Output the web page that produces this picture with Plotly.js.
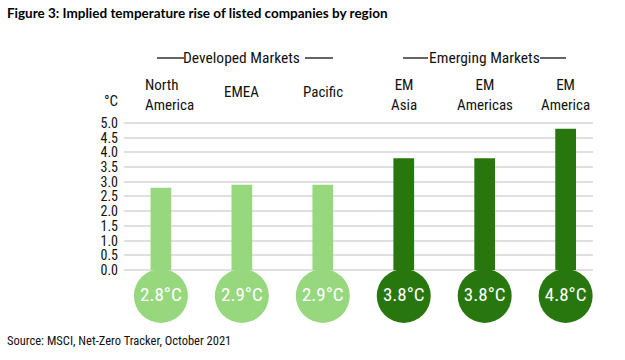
<!DOCTYPE html>
<html>
<head>
<meta charset="utf-8">
<script src="https://cdn.plot.ly/plotly-3.0.1.min.js"></script>
<style>html,body{margin:0;padding:0;background:#fff;}#chart{width:625px;height:360px;}</style>
</head>
<body>
<div id="chart"></div>
<script>
// ---- data ----
const categories = ["North America", "EMEA", "Pacific", "EM Asia", "EM Americas", "EM America"];
const headerLabels = ["North<br>America", "EMEA", "Pacific", "EM<br>Asia", "EM<br>Americas", "EM<br>America"];
const temperatures = [2.8, 2.9, 2.9, 3.8, 3.8, 4.8];
const groups = ["Developed", "Developed", "Developed", "Emerging", "Emerging", "Emerging"];
const yTickVals = [0, 0.5, 1, 1.5, 2, 2.5, 3, 3.5, 4, 4.5, 5];
const yTickText = ["0.0", "0.5", "1.0", "1.5", "2.0", "2.5", "3.0", "3.5", "4.0", "4.5", "5.0"];
const groupTitles = ["Developed Markets", "Emerging Markets"];

// ---- style ----
const NARROW = "Roboto Condensed, DejaVu Sans Condensed, sans-serif";
const nf = (size, color) => ({family: NARROW, size: size, color: color || "#111", stretch: "condensed"});
const groupColor = {Developed: "#97d87f", Emerging: "#28770e"};
const colors = groups.map(g => groupColor[g]);
const bulbY = -0.88;

const plotLeft = 124, plotW = 469, plotTop = 117, plotH = 206;
const pxToPaperX = px => (px - plotLeft) / plotW;
const pxToPaperY = py => (plotTop + plotH - py) / plotH;

const bars = {
  type: "bar",
  x: categories,
  y: temperatures,
  width: 0.256,
  marker: {color: colors, line: {width: 0}},
  hoverinfo: "skip"
};

const bulbs = {
  type: "scatter",
  mode: "markers+text",
  x: categories,
  y: categories.map(() => bulbY),
  text: temperatures.map(v => v.toFixed(1) + "°C"),
  textposition: "middle center",
  textfont: nf(19, "#ffffff"),
  marker: {size: 54, color: colors, line: {width: 0}},
  cliponaxis: false,
  hoverinfo: "skip"
};

const annotations = [];
headerLabels.forEach((t, i) => {
  const twoLine = t.includes("<br>");
  annotations.push({
    x: categories[i], xref: "x", y: pxToPaperY(twoLine ? 95 : 92), yref: "paper",
    text: t, showarrow: false, xanchor: "center", yanchor: "middle",
    align: i === 0 ? "left" : "center",
    xshift: i === 0 ? 9 : 0,
    font: nf(15)
  });
});
groupTitles.forEach((t, i) => {
  annotations.push({
    x: categories[i * 3 + 1], xref: "x", y: pxToPaperY(58), yref: "paper",
    text: t, showarrow: false, xanchor: "center", yanchor: "middle",
    font: nf(15.5)
  });
});
annotations.push({
  x: pxToPaperX(111), xref: "paper", y: pxToPaperY(101), yref: "paper",
  text: "°C", showarrow: false, xanchor: "center", yanchor: "middle",
  font: nf(15)
});
annotations.push({
  x: pxToPaperX(5), xref: "paper", y: pxToPaperY(340), yref: "paper",
  text: "Source: MSCI, Net-Zero Tracker, October 2021", showarrow: false, xanchor: "left", yanchor: "middle",
  font: nf(12.5)
});

const lineStyle = {color: "#111", width: 1.3};
const seg = (x0, x1) => ({type: "line", xref: "paper", yref: "paper",
  x0: pxToPaperX(x0), x1: pxToPaperX(x1), y0: pxToPaperY(58), y1: pxToPaperY(58), line: lineStyle});
const shapes = [seg(157, 184), seg(305, 333), seg(403, 428), seg(540, 566)];

const layout = {
  width: 625, height: 360,
  margin: {l: plotLeft, r: 625 - plotLeft - plotW, t: plotTop, b: 360 - plotTop - plotH, pad: 0},
  paper_bgcolor: "#ffffff", plot_bgcolor: "#ffffff",
  showlegend: false,
  title: {
    text: "<b>Figure 3: Implied temperature rise of listed companies by region</b>",
    x: 0.011, xanchor: "left", y: 0.962, yanchor: "middle",
    font: {family: "Lato, sans-serif", size: 13.5, color: "#000"}
  },
  xaxis: {
    type: "category", range: [-0.456, 5.338],
    showticklabels: false, showgrid: false, zeroline: false, showline: false, ticks: "",
    fixedrange: true
  },
  yaxis: {
    range: [-1.8, 5.2],
    tickmode: "array", tickvals: yTickVals, ticktext: yTickText,
    showgrid: true, gridcolor: "#e0e0e0", gridwidth: 2,
    zeroline: false, showline: false, ticks: "",
    tickfont: nf(14),
    ticklabelstandoff: 5,
    fixedrange: true
  },
  annotations: annotations,
  shapes: shapes
};

Plotly.newPlot("chart", [bars, bulbs], layout, {displayModeBar: false, staticPlot: true});
</script>
</body>
</html>
